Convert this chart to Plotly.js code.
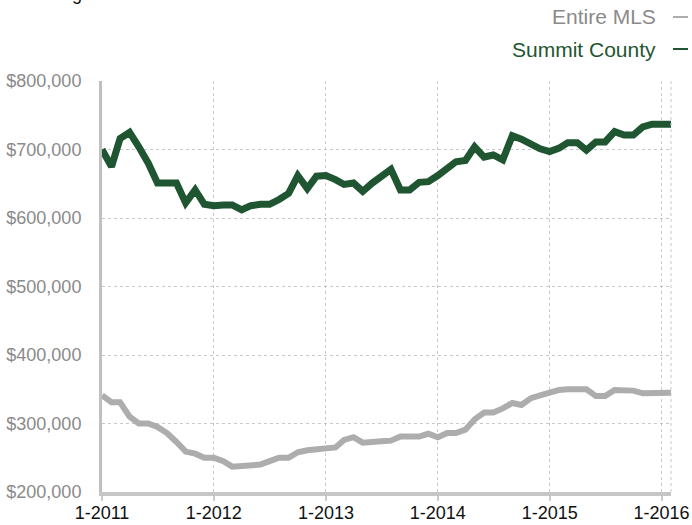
<!DOCTYPE html>
<html>
<head>
<meta charset="utf-8">
<script src="https://cdn.plot.ly/plotly-3.0.1.min.js"></script>
<style>
html,body{margin:0;padding:0;background:#fff;}
#chart{width:692px;height:525px;}
</style>
</head>
<body>
<div id="chart"></div>
<script>
var months = [
'2011-01-01','2011-02-01','2011-03-01','2011-04-01','2011-05-01','2011-06-01','2011-07-01','2011-08-01','2011-09-01','2011-10-01','2011-11-01','2011-12-01',
'2012-01-01','2012-02-01','2012-03-01','2012-04-01','2012-05-01','2012-06-01','2012-07-01','2012-08-01','2012-09-01','2012-10-01','2012-11-01','2012-12-01',
'2013-01-01','2013-02-01','2013-03-01','2013-04-01','2013-05-01','2013-06-01','2013-07-01','2013-08-01','2013-09-01','2013-10-01','2013-11-01','2013-12-01',
'2014-01-01','2014-02-01','2014-03-01','2014-04-01','2014-05-01','2014-06-01','2014-07-01','2014-08-01','2014-09-01','2014-10-01','2014-11-01','2014-12-01',
'2015-01-01','2015-02-01','2015-03-01','2015-04-01','2015-05-01','2015-06-01','2015-07-01','2015-08-01','2015-09-01','2015-10-01','2015-11-01','2015-12-01',
'2016-01-01','2016-02-01'];

var summitCounty = [
700000,675000,716000,725000,704000,680000,651000,651000,651000,622000,641000,620000,
618000,619000,619000,612000,618000,620000,620000,627000,636000,662000,643000,661000,
662000,656000,649000,651000,639000,651000,661000,671000,641000,641000,652000,653000,
662000,672000,682000,684000,704000,689000,692000,685000,720000,715000,708000,701000,
697000,702000,710000,710000,699000,711000,711000,726000,721000,721000,733000,737000,
737000,737000];

var entireMLS = [
341000,331000,331000,310000,300000,300000,295000,286000,273000,259000,256000,250000,
250000,245000,237000,238000,240000,240000,245000,250000,250000,258000,261000,263000,
264000,265000,276000,280000,272000,274000,274000,275000,281000,281000,281000,285000,
280000,286000,286000,291000,306000,316000,316000,322000,330000,327000,337000,341000,
346000,349000,350000,350000,350000,340000,340000,349000,349000,348000,344000,344000,
343000,345000];

var yearTicks = ['2011-01-01','2012-01-01','2013-01-01','2014-01-01','2015-01-01','2016-01-01'];
var yearLabels = ['1-2011','1-2012','1-2013','1-2014','1-2015','1-2016'];
var priceTicks = [200000,300000,400000,500000,600000,700000,800000];
var priceLabels = ['$200,000','$300,000','$400,000','$500,000','$600,000','$700,000','$800,000'];
var seriesNames = ['Entire MLS','Summit County'];

var GREEN = '#1f5631';
var GRAY = '#adadad';
var FONT = 'Liberation Sans, Arial, Helvetica, sans-serif';

var traces = [
  {x: months, y: entireMLS, type: 'scatter', mode: 'lines', name: seriesNames[0],
   line: {color: GRAY, width: 6}, hoverinfo: 'skip'},
  {x: months, y: summitCounty, type: 'scatter', mode: 'lines', name: seriesNames[1],
   line: {color: GREEN, width: 7}, hoverinfo: 'skip'}
];

var layout = {
  width: 692, height: 525,
  margin: {l: 102, r: 21, t: 81, b: 33, pad: 0},
  paper_bgcolor: '#ffffff', plot_bgcolor: '#ffffff',
  showlegend: false,
  font: {family: FONT, size: 18, color: '#000'},
  xaxis: {
    type: 'date',
    range: [months[0], months[months.length - 1]],
    tickvals: yearTicks, ticktext: yearLabels,
    tickfont: {family: FONT, size: 18, color: '#111'},
    ticks: 'outside', ticklen: 5, tickwidth: 2, tickcolor: '#cccccc',
    ticklabelstandoff: -4,
    showgrid: true, gridcolor: '#c8c8c8', griddash: 'dot', gridwidth: 1,
    showline: true, linecolor: '#c6c6c6', linewidth: 4,
    zeroline: false, fixedrange: true
  },
  yaxis: {
    range: [200000, 800000],
    tickvals: priceTicks, ticktext: priceLabels,
    tickfont: {family: FONT, size: 18, color: '#8a8a8a'},
    ticks: 'outside', ticklen: 14, tickcolor: 'rgba(0,0,0,0)',
    showgrid: true, gridcolor: '#c8c8c8', griddash: 'dot', gridwidth: 1,
    showline: true, linecolor: '#c0c0c0', linewidth: 3,
    zeroline: false, fixedrange: true
  },
  shapes: [
    {type: 'line', xref: 'paper', yref: 'paper', x0: 1, x1: 1, y0: 0, y1: 1,
     line: {color: '#c8c8c8', width: 1, dash: 'dot'}},
    {type: 'line', xref: 'paper', yref: 'paper',
     x0: (673 - 102) / 569, x1: (688 - 102) / 569, y0: (492 - 17) / 411, y1: (492 - 17) / 411,
     line: {color: GRAY, width: 2}},
    {type: 'line', xref: 'paper', yref: 'paper',
     x0: (673 - 102) / 569, x1: (688 - 102) / 569, y0: (492 - 49) / 411, y1: (492 - 49) / 411,
     line: {color: GREEN, width: 2}}
  ],
  annotations: [
    {text: seriesNames[0], xref: 'paper', yref: 'paper', x: (658 - 102) / 569, y: (492 - 17) / 411,
     xanchor: 'right', yanchor: 'middle', showarrow: false,
     font: {family: FONT, size: 21, color: '#8a8a8a'}},
    {text: seriesNames[1], xref: 'paper', yref: 'paper', x: (658 - 102) / 569, y: (492 - 49) / 411,
     xanchor: 'right', yanchor: 'middle', showarrow: false,
     font: {family: FONT, size: 21, color: GREEN}},
    {text: 'Rolling 12-Month Calculation', xref: 'paper', yref: 'paper',
     x: (25 - 102) / 569, y: (492 + 6) / 411, xanchor: 'left', yanchor: 'middle', showarrow: false,
     font: {family: FONT, size: 18, color: '#111'}}
  ]
};

Plotly.newPlot('chart', traces, layout, {displayModeBar: false, staticPlot: true});
</script>
</body>
</html>
